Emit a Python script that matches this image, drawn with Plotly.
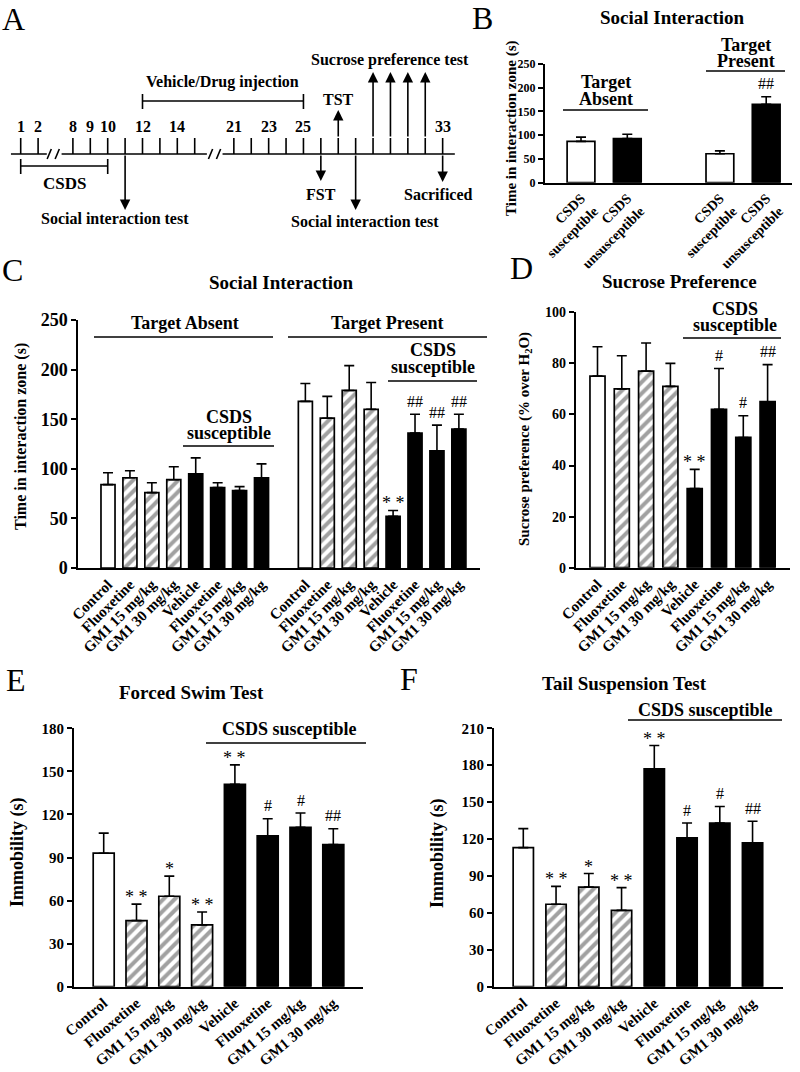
import plotly.graph_objects as go

W, H = 800, 1072
SERIF = "Liberation Serif"

# ---------------- data ----------------
treatments = ["Control", "Fluoxetine", "GM1 15 mg/kg", "GM1 30 mg/kg",
              "Vehicle", "Fluoxetine", "GM1 15 mg/kg", "GM1 30 mg/kg"]
fill_kind = ["open", "hatch", "hatch", "hatch", "solid", "solid", "solid", "solid"]

# B: social interaction, susceptible vs unsusceptible
b_labels = ["CSDS<br>susceptible", "CSDS<br>unsusceptible",
            "CSDS<br>susceptible", "CSDS<br>unsusceptible"]
b_fill = ["open", "solid", "open", "solid"]
b_mean = [87, 93, 61, 165]
b_sem = [9, 9, 6, 16]
b_marks = ["", "", "", "##"]

# C: social interaction, target absent / present
c_absent_mean = [84, 91, 76, 89, 95, 81, 78, 91]
c_absent_sem = [12, 7, 10, 13, 16, 5, 4, 14]
c_absent_marks = ["", "", "", "", "", "", "", ""]
c_present_mean = [168, 151, 179, 160, 52, 136, 118, 140]
c_present_sem = [18, 22, 25, 27, 6, 19, 26, 15]
c_present_marks = ["", "", "", "", "**", "##", "##", "##"]

# D: sucrose preference (%)
d_mean = [75, 70, 77, 71, 31, 62, 51, 65]
d_sem = [11.5, 13, 11, 9, 7.5, 16, 8.5, 14.5]
d_marks = ["", "", "", "", "**", "#", "#", "##"]

# E: forced swim test immobility (s)
e_mean = [93, 46, 63, 43, 141, 105, 111, 99]
e_sem = [14, 11.5, 14, 9, 13.5, 12, 10, 11]
e_marks = ["", "**", "*", "**", "**", "#", "#", "##"]

# F: tail suspension test immobility (s)
f_mean = [113, 67, 81, 62, 177, 121, 133, 117]
f_sem = [15.5, 14.5, 11, 18.5, 19, 12, 13.5, 17.5]
f_marks = ["", "**", "*", "**", "**", "#", "#", "##"]

# A: experimental timeline
timeline_days = [1, 2] + list(range(8, 16)) + list(range(21, 34))
labelled_days = [1, 2, 8, 9, 10, 12, 14, 21, 23, 25, 33]
csds_days = [1, 10]
injection_days = [12, 25]
sucrose_days = [29, 30, 31, 32]


def px_x(x):
    return x / W


def px_y(y):
    return 1 - y / H


fig = go.Figure()


def text(x, y, s, size, bold=True, xanchor="center", **kw):
    fig.add_annotation(x=px_x(x), y=px_y(y), xref="paper", yref="paper", text=s,
                       showarrow=False, xanchor=xanchor, yanchor="middle",
                       font=dict(family=SERIF, size=size, color="black",
                                 weight="bold" if bold else "normal"), **kw)


def hline(x0, x1, y, w=1.6):
    fig.add_shape(type="line", xref="paper", yref="paper",
                  x0=px_x(x0), x1=px_x(x1), y0=px_y(y), y1=px_y(y),
                  line=dict(color="black", width=w))


def bar_panel(n, pos, mean, sem, fills, marks, labels, xdom, first_c, slot,
              ydom, yrange, dtick, ytick_size, xtick_size, bar_w, angle=-45):
    sfx = "" if n == 1 else str(n)
    xa, ya = "x" + sfx, "y" + sfx
    colors = ["black" if f == "solid" else "white" for f in fills]
    shapes = ["/" if f == "hatch" else "" for f in fills]
    fig.add_trace(go.Bar(
        x=pos, y=mean, width=bar_w, xaxis=xa, yaxis=ya,
        marker=dict(color=colors, line=dict(color="black", width=1.7),
                    pattern=dict(shape=shapes, fgcolor="black", bgcolor="white",
                                 size=8, solidity=0.5)),
        error_y=dict(type="data", symmetric=False, array=sem,
                     arrayminus=[0] * len(sem), color="black",
                     thickness=1.6, width=5),
        showlegend=False, hoverinfo="skip"))
    for p, m, s, t in zip(pos, mean, sem, marks):
        if not t:
            continue
        star = "*" in t
        fig.add_annotation(x=p, y=m + s, xref=xa, yref=ya,
                           text=t.replace("**", "* *"), showarrow=False,
                           xanchor="center", yanchor="middle",
                           yshift=7 if star else 13,
                           font=dict(family=SERIF, size=18 if star else 16,
                                     color="black"))
    x0, x1 = xdom
    fig.update_layout({
        "xaxis" + sfx: dict(domain=[px_x(x0), px_x(x1)], anchor=ya,
                            range=[(x0 - first_c) / slot, (x1 - first_c) / slot],
                            tickmode="array", tickvals=pos, ticktext=labels,
                            tickangle=angle, showline=True, linecolor="black",
                            linewidth=2, ticks="", showgrid=False, zeroline=False,
                            automargin=False,
                            tickfont=dict(family=SERIF, size=xtick_size,
                                          color="black", weight="bold")),
        "yaxis" + sfx: dict(domain=[px_y(ydom[1]), px_y(ydom[0])], anchor=xa,
                            range=yrange, dtick=dtick, showline=True,
                            linecolor="black", linewidth=2, ticks="outside",
                            ticklen=5, tickwidth=2, tickcolor="black",
                            showgrid=False, zeroline=False, automargin=False,
                            tickfont=dict(family=SERIF, size=ytick_size,
                                          color="black", weight="bold")),
    })


# ---------------- B ----------------
bar_panel(1, [0, 1, 3, 4], b_mean, b_sem, b_fill, b_marks, b_labels,
          (545, 792), 581, 46.3, (64, 182.7), [0, 250], 50, 12, 14, 0.6)
text(470, 18, "B", 32, bold=False, xanchor="left")
text(672, 18, "Social Interaction", 19)
text(606, 82, "Target", 18)
text(606, 99, "Absent", 18)
hline(563, 648, 110)
text(746, 45, "Target", 18)
text(746, 61, "Present", 18)
hline(706, 785, 71)
text(511, 128, "Time in interaction zone (s)", 15, textangle=-90)

# ---------------- C ----------------
c_pos = list(range(8)) + list(range(9, 17))
bar_panel(2, c_pos, c_absent_mean + c_present_mean, c_absent_sem + c_present_sem,
          fill_kind * 2, c_absent_marks + c_present_marks, treatments * 2,
          (78.3, 480), 108, 21.93, (320, 568), [0, 250], 50, 18, 15, 0.64)
text(0, 270, "C", 32, bold=False, xanchor="left")
text(281, 282, "Social Interaction", 19)
text(185, 323, "Target Absent", 18)
hline(94, 273, 337)
text(387, 323, "Target Present", 18)
hline(288, 487, 337)
text(229, 417, "CSDS", 18)
text(229, 433, "susceptible", 18)
hline(183, 274, 446)
text(433, 350, "CSDS", 18)
text(433, 367, "susceptible", 18)
hline(388, 477, 381)
text(21, 437, "Time in interaction zone (s)", 16, textangle=-90)

# ---------------- D ----------------
bar_panel(3, list(range(8)), d_mean, d_sem, fill_kind, d_marks, treatments,
          (575.7, 790), 597.5, 24.3, (312.3, 567.7), [0, 100], 20, 14, 15, 0.62)
text(508, 268, "D", 32, bold=False, xanchor="left")
text(679, 281, "Sucrose Preference", 19)
text(735, 309, "CSDS", 18)
text(735, 325, "susceptible", 18)
hline(683, 781, 338)
text(525, 439, "Sucrose preference (% over H<sub>2</sub>O)", 15, textangle=-90)

# ---------------- E ----------------
bar_panel(4, list(range(8)), e_mean, e_sem, fill_kind, e_marks, treatments,
          (74, 363.3), 103.7, 32.8, (728.3, 986.7), [0, 180], 30, 15, 15, 0.64,
          angle=-40)
text(4, 680, "E", 32, bold=False, xanchor="left")
text(191, 692, "Forced Swim Test", 19)
text(289, 729, "CSDS susceptible", 18)
hline(206, 366, 743)
text(17, 852, "Immobility (s)", 18, textangle=-90)

# ---------------- F ----------------
bar_panel(5, list(range(8)), f_mean, f_sem, fill_kind, f_marks, treatments,
          (494, 782.7), 523.3, 32.75, (728.3, 986.7), [0, 210], 30, 15, 15, 0.62,
          angle=-40)
text(398, 679, "F", 32, bold=False, xanchor="left")
text(624, 683, "Tail Suspension Test", 19)
text(705, 710, "CSDS susceptible", 18)
hline(628, 782, 720)
text(437, 853, "Immobility (s)", 18, textangle=-90)

# ---------------- A: timeline ----------------
BASE = 154      # baseline row inside panel A
TICK = 16       # tick height
SLOT_PX = 17.4
FIRST_PX = 20.7


def day_slot(d):
    if d <= 2:
        return d - 1
    if d <= 15:
        return d - 5
    return d - 8.75


seg_bounds = [(-0.56, 1.5), (2.35, 10.7), (11.6, 24.95)]
break_centers = [1.87, 11.14]

lx, ly = [], []
for a, b in seg_bounds:
    lx += [a, b, None]
    ly += [BASE, BASE, None]
for d in timeline_days:
    s = day_slot(d)
    lx += [s, s, None]
    ly += [BASE - TICK, BASE, None]
for c in break_centers:
    for off in (-0.23, 0.23):
        lx += [c + off - 0.12, c + off + 0.12, None]
        ly += [BASE + 5, BASE - 5, None]
# brackets
for (d0, d1), yb in ((csds_days, 166), (injection_days, 101)):
    s0, s1 = day_slot(d0), day_slot(d1)
    lx += [s0, s1, None, s0, s0, None, s1, s1, None]
    ly += [yb, yb, None, yb - 7, yb + 8, None, yb - 7, yb + 8, None]

fig.add_trace(go.Scatter(x=lx, y=ly, xaxis="x6", yaxis="y6", mode="lines",
                         line=dict(color="black", width=1.6),
                         showlegend=False, hoverinfo="skip"))

fig.update_layout(
    xaxis6=dict(domain=[0, px_x(470)], anchor="y6", visible=False,
                automargin=False,
                range=[-FIRST_PX / SLOT_PX, (470 - FIRST_PX) / SLOT_PX]),
    yaxis6=dict(domain=[px_y(240), 1], anchor="x6", visible=False,
                automargin=False, range=[240, 0]),
)


def a_text(slot, y, s, size=16, xshift=0):
    fig.add_annotation(x=slot, y=y, xref="x6", yref="y6", text=s, showarrow=False,
                       xshift=xshift, xanchor="center", yanchor="middle",
                       font=dict(family=SERIF, size=size, color="black",
                                 weight="bold"))


def a_arrow(day, y_from, y_to):
    s = day_slot(day)
    fig.add_annotation(x=s, y=y_to, ax=s, ay=y_from, xref="x6", yref="y6",
                       axref="x6", ayref="y6", text="", showarrow=True,
                       arrowhead=2, arrowsize=1.3, arrowwidth=1.6,
                       arrowcolor="black", standoff=0, startstandoff=0)


for d in labelled_days:
    a_text(day_slot(d), 126, str(d), 16)

a_text((day_slot(csds_days[0]) + day_slot(csds_days[1])) / 2, 183, "CSDS", 17)
a_text((day_slot(injection_days[0]) + day_slot(injection_days[1])) / 2, 82,
       "Vehicle/Drug injection", 16)

a_arrow(11, BASE, 210)
a_text(day_slot(11), 218, "Social interaction test", 16, xshift=-10)
a_arrow(26, BASE, 181)
a_text(day_slot(26), 194, "FST", 16)
a_arrow(27, BASE - TICK, 110)
a_text(day_slot(27), 99, "TST", 16)
a_arrow(28, BASE, 210)
a_text(day_slot(28), 221, "Social interaction test", 16, xshift=9)
for d in sucrose_days:
    a_arrow(d, BASE - TICK, 72)
a_text(sum(day_slot(d) for d in sucrose_days) / 4, 60, "Sucrose preference test",
       16, xshift=-9)
a_arrow(33, BASE, 182)
a_text(day_slot(33), 194, "Sacrificed", 16, xshift=-4)
text(0, 19, "A", 32, bold=False, xanchor="left")

fig.update_layout(
    width=W, height=H,
    margin=dict(l=0, r=0, t=0, b=0, autoexpand=False),
    paper_bgcolor="white", plot_bgcolor="white",
    font=dict(family=SERIF, color="black"),
    showlegend=False,
)

# the page's default body margin would push the whole figure 8px down/right
fig.write_html("out.html", config={"displayModeBar": False},
               post_script="document.body.style.margin='0';")
